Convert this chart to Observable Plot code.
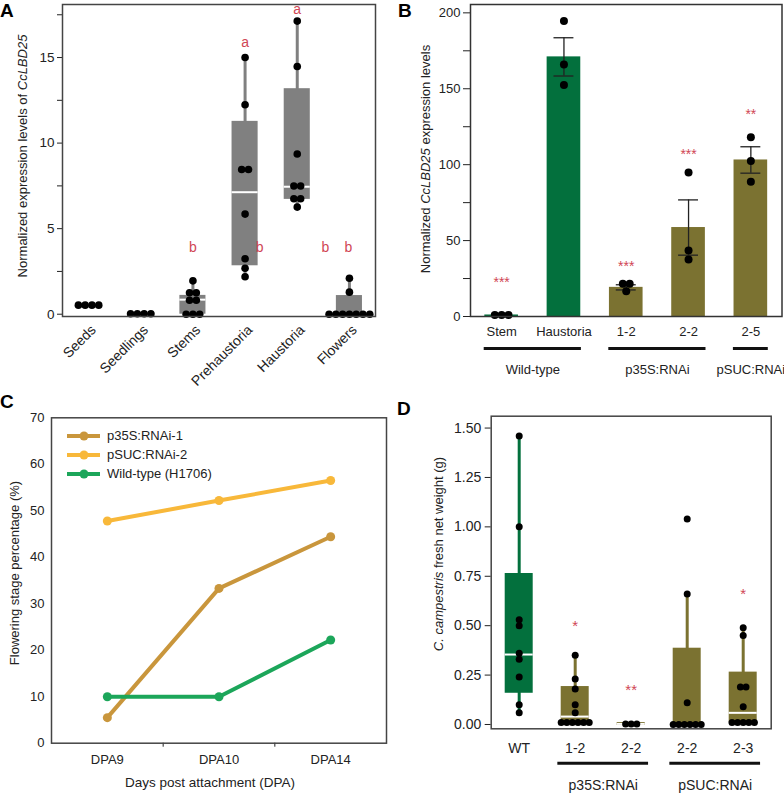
<!DOCTYPE html>
<html><head><meta charset="utf-8">
<script src="https://cdn.jsdelivr.net/npm/d3@7"></script>
<script src="https://cdn.jsdelivr.net/npm/@observablehq/plot@0.6"></script>
<style>
body{margin:0;background:#fff;}
#root{position:relative;width:784px;height:793px;background:#fff;font-family:'Liberation Sans',Arial,Helvetica,sans-serif;color:#222;overflow:hidden}
.pl{position:absolute;font-weight:bold;font-size:19px;line-height:19px;color:#000}
.yt{position:absolute;white-space:nowrap;transform:translate(-50%,-50%) rotate(-90deg);font-size:13px;color:#222}
.xt{position:absolute;white-space:nowrap;transform:translate(-50%,-50%);font-size:13.5px;color:#222}
.leg{position:absolute;font-size:13px;color:#222}
.leg div{height:19px;display:flex;align-items:center}
</style></head>
<body><div id="root"></div>
<script>
// ---------- DATA ----------
// Panel A
const catsA = ["Seeds","Seedlings","Stems","Prehaustoria","Haustoria","Flowers"];
const ptsA = [
  [0.53,0.53,0.53,0.53],
  [0.03,0.03,0.03,0.03],
  [1.95,1.25,1.25,0.82,0.82,0,0,0],
  [15.0,12.24,8.46,8.46,5.85,3.24,2.69,2.19],
  [17.13,14.48,9.36,7.49,7.49,6.75,6.75,6.26],
  [2.1,1.29,0,0,0,0,0,0,0]
];
const q1A  = [null,null,0,2.83,6.71,0];
const medA = [null,null,0.85,7.13,7.45,0];
const q3A  = [null,null,1.1,11.27,13.18,1.09];
const loA  = [null,null,0,2.19,6.26,0];
const hiA  = [null,null,1.95,15.0,17.13,2.1];
const letterTextA = ["a","a","b","b","b","b"];
const letterXA = [3,4,2,3.28,4.54,4.98];
const letterYA = [15.9,17.8,3.9,3.9,3.9,3.9];

// Panel B
const catsB = ["Stem","Haustoria","1-2","2-2","2-5"];
const meanB = [1,171,19.2,58.6,103.1];
const seB   = [0.3,12.6,1.7,18.2,8.7];
const ptsB  = [[1,1,1],[194.6,166,152.4],[21.6,21.6,16.7],[94.9,43.4,37.6],[118,102.4,88.7]];
const starsB = ["***","","***","***","**"];
const starYB = [22.7,null,33,106.8,133];
const groupNamesB = ["Wild-type","p35S:RNAi","pSUC:RNAi"];
const groupFromB = [0,2,4];
const groupToB = [1,3,4];
const typeB = ["wt","wt","tg","tg","tg"];

// Panel C
const dpaC = ["DPA9","DPA10","DPA14"];
const seriesC = ["p35S:RNAi-1","pSUC:RNAi-2","Wild-type (H1706)"];
const valuesC = [[5.5,33.3,44.4],[47.8,52.2,56.5],[10,10,22.2]];
const colorsC = ["#c9963c","#f8b83a","#1ca65a"];

// Panel D
const catsD = ["WT","1-2","2-2","2-2","2-3"];
const ptsD = [
  [1.46,1.0,0.53,0.50,0.36,0.33,0.24,0.10,0.06],
  [0.35,0.23,0.18,0.10,0.06,0.01,0.01,0.01,0.01,0.01,0.01],
  [0.003,0.003,0.003],
  [1.04,0.66,0.11,0,0,0,0,0,0],
  [0.49,0.45,0.19,0.19,0.09,0.01,0.01,0.01,0.01,0.01]
];
const q1D  = [0.158,0.01,-0.005,0,0.01];
const medD = [0.354,0.04,0.003,0,0.059];
const q3D  = [0.764,0.192,0.01,0.386,0.265];
const loD  = [0.06,0.01,0,0,0.01];
const hiD  = [1.46,0.35,0.01,0.66,0.49];
const starsD = ["","*","**","","*"];
const starYD = [null,0.496,0.172,null,0.658];
const groupNamesD = ["p35S:RNAi","pSUC:RNAi"];
const groupFromD = [1,3];
const groupToD = [2,4];
const typeD = ["wt","tg","tg","tg","tg"];

const GREEN = "#03703d", OLIVE = "#7b7231", RED = "#d04655", GRAY = "#808080";
const FONT = "'Liberation Sans', Arial, Helvetica, sans-serif";

// ---------- helpers ----------
function spread(pts, step) {
  const out = [];
  pts.forEach((vals, i) => {
    const g = d3.group(vals, v => v);
    for (const [v, arr] of g) {
      const n = arr.length;
      arr.forEach((_, k) => out.push({i, v, x: i + (k - (n - 1) / 2) * step}));
    }
  });
  return out;
}
const root = document.getElementById("root");
function place(svg, left, top) {
  svg.style.position = "absolute";
  svg.style.left = left + "px";
  svg.style.top = top + "px";
  root.appendChild(svg);
}
function addDiv(cls, html, left, top) {
  const d = document.createElement("div");
  d.className = cls; d.innerHTML = html;
  d.style.left = left + "px"; d.style.top = top + "px";
  root.appendChild(d); return d;
}
const baseStyle = {fontFamily: FONT, fontSize: "13px", color: "#222", background: "transparent", overflow: "visible"};

// ---------- Panel A ----------
const boxA = catsA.map((c, i) => ({i, q1: q1A[i], med: medA[i], q3: q3A[i], lo: loA[i], hi: hiA[i]})).filter(d => d.q1 != null);
const lettersA = letterTextA.map((t, k) => ({t, x: letterXA[k], y: letterYA[k]}));
const chartA = Plot.plot({
  width: 392, height: 400, marginLeft: 62, marginRight: 17, marginTop: 4, marginBottom: 84,
  style: {...baseStyle, fontSize: "13.5px"},
  x: {domain: [-0.5, 5.5]},
  y: {domain: [-0.134, 18.1]},
  marks: [
    Plot.ruleX(boxA, {x: "i", y1: "lo", y2: "hi", stroke: GRAY, strokeWidth: 3}),
    Plot.rect(boxA, {x1: d => d.i - 0.25, x2: d => d.i + 0.25, y1: "q1", y2: "q3", fill: GRAY}),
    Plot.ruleY(boxA, {x1: d => d.i - 0.25, x2: d => d.i + 0.25, y: "med", stroke: "white", strokeWidth: 2}),
    Plot.dot(spread(ptsA, 0.13), {x: "x", y: "v", r: 3.8, fill: "black"}),
    Plot.text(lettersA, {x: "x", y: "y", text: "t", fill: RED, fontSize: 14}),
    Plot.axisY({ticks: d3.range(0, 18, 2.5), tickFormat: d => d % 5 === 0 ? d : "", tickSize: 5, tickPadding: 3, label: null}),
    Plot.axisX({ticks: d3.range(6), tickFormat: i => catsA[i], tickRotate: -45, tickSize: 0, tickPadding: 11, dx: 5, label: null, fontSize: 14}),
    Plot.frame({stroke: "#444", strokeWidth: 1.5})
  ]
});
place(chartA, 0, 0);
addDiv("yt", "Normalized expression levels of <i>CcLBD25</i>", 22, 156);

// ---------- Panel B ----------
const barsB = catsB.map((c, i) => ({i, mean: meanB[i], se: seB[i], col: typeB[i] === "wt" ? GREEN : OLIVE}));
const starsBd = starsB.map((t, i) => ({i, t, y: starYB[i]})).filter(d => d.t);
const groupsB = groupNamesB.map((n, k) => ({n, from: groupFromB[k], to: groupToB[k]}));
const chartB = Plot.plot({
  width: 392, height: 390, marginLeft: 78, marginRight: 2.5, marginTop: 4, marginBottom: 74,
  style: baseStyle,
  color: {type: "identity"},
  x: {domain: [-0.5, 4.5]},
  y: {domain: [0, 205.5]},
  marks: [
    Plot.rect(barsB, {x1: d => d.i - 0.27, x2: d => d.i + 0.27, y1: () => 0, y2: "mean", fill: "col"}),
    Plot.ruleX(barsB, {x: "i", y1: d => d.mean - d.se, y2: d => d.mean + d.se, stroke: "#222", strokeWidth: 1.3}),
    Plot.ruleY(barsB, {x1: d => d.i - 0.16, x2: d => d.i + 0.16, y: d => d.mean + d.se, stroke: "#222", strokeWidth: 1.3}),
    Plot.ruleY(barsB, {x1: d => d.i - 0.16, x2: d => d.i + 0.16, y: d => d.mean - d.se, stroke: "#222", strokeWidth: 1.3}),
    Plot.dot(spread(ptsB, 0.11), {x: "x", y: "v", r: 4, fill: "black"}),
    Plot.text(starsBd, {x: "i", y: "y", text: "t", fill: RED, fontSize: 14}),
    Plot.ruleY(groupsB, {x1: d => d.from - 0.28, x2: d => d.to + 0.28, y: () => 0, dy: 32, stroke: "#111", strokeWidth: 3}),
    Plot.text(groupsB, {x: d => (d.from + d.to) / 2, y: () => 0, text: "n", dy: 53, fontSize: 13}),
    Plot.axisY({ticks: d3.range(0, 201, 25), tickFormat: d => d % 50 === 0 ? d : "", tickSize: 7, tickPadding: 3, label: null}),
    Plot.axisX({ticks: d3.range(5), tickFormat: i => catsB[i], tickSize: 0, tickPadding: 10, label: null}),
    Plot.frame({stroke: "#333", strokeWidth: 1.5})
  ]
});
place(chartB, 392, 0);
addDiv("yt", "Normalized <i>CcLBD25</i> expression levels", 425, 159);

// ---------- Panel C ----------
const lineC = [];
seriesC.forEach((s, k) => valuesC[k].forEach((v, j) => lineC.push({s, j, v, col: colorsC[k]})));
const chartC = Plot.plot({
  width: 392, height: 403, marginLeft: 51, marginRight: 6, marginTop: 27.3, marginBottom: 50.3,
  style: baseStyle,
  color: {type: "identity"},
  x: {domain: [-0.5, 2.5]},
  y: {domain: [0, 70]},
  marks: [
    Plot.line(lineC, {x: "j", y: "v", z: "s", stroke: "col", strokeWidth: 4}),
    Plot.dot(lineC, {x: "j", y: "v", fill: "col", r: 4.5}),
    Plot.axisY({ticks: d3.range(0, 71, 10), tickSize: 0, tickPadding: 7, label: null}),
    Plot.axisX({ticks: [0, 1, 2], tickFormat: i => dpaC[i], tickSize: 0, tickPadding: 12, label: null}),
    Plot.axisX({ticks: [0.5, 1.5], tickFormat: () => "", tickSize: 4, label: null}),
    Plot.frame({stroke: "#444", strokeWidth: 1.5})
  ]
});
place(chartC, 0, 390);
addDiv("yt", "Flowering stage percentage (%)", 14, 573);
addDiv("xt", "Days post attachment (DPA)", 210, 782);
addDiv("leg", seriesC.map((s, k) =>
  `<div><svg width="40" height="10"><line x1="0" x2="33" y1="5" y2="5" stroke="${colorsC[k]}" stroke-width="4"/><circle cx="17" cy="5" r="4.5" fill="${colorsC[k]}"/></svg>${s}</div>`).join(""), 67, 426);

// ---------- Panel D ----------
const boxD = catsD.map((c, i) => ({i, q1: q1D[i], med: medD[i], q3: q3D[i], lo: loD[i], hi: hiD[i], col: typeD[i] === "wt" ? GREEN : OLIVE}));
const starsDd = starsD.map((t, i) => ({i, t, y: starYD[i]})).filter(d => d.t);
const groupsD = groupNamesD.map((n, k) => ({n, from: groupFromD[k], to: groupToD[k]}));
const chartD = Plot.plot({
  width: 392, height: 403, marginLeft: 98.7, marginRight: 13.3, marginTop: 25.7, marginBottom: 64.7,
  style: {...baseStyle, fontSize: "14px"},
  color: {type: "identity"},
  x: {domain: [-0.5, 4.5]},
  y: {domain: [-0.0218, 1.56]},
  marks: [
    Plot.ruleX(boxD, {x: "i", y1: "lo", y2: "hi", stroke: "col", strokeWidth: 3}),
    Plot.rect(boxD, {x1: d => d.i - 0.25, x2: d => d.i + 0.25, y1: "q1", y2: "q3", fill: "col"}),
    Plot.ruleY(boxD, {x1: d => d.i - 0.25, x2: d => d.i + 0.25, y: "med", stroke: "white", strokeWidth: 2}),
    Plot.dot(spread(ptsD, 0.1), {x: "x", y: "v", r: 3.5, fill: "black"}),
    Plot.text(starsDd, {x: "i", y: "y", text: "t", fill: RED, fontSize: 15}),
    Plot.ruleY(groupsD, {x1: d => d.from - 0.31, x2: d => d.to + 0.31, y: () => 0, dy: 38.7, stroke: "#111", strokeWidth: 3}),
    Plot.text(groupsD, {x: d => (d.from + d.to) / 2, y: () => 0, text: "n", dy: 61, fontSize: 14}),
    Plot.axisY({ticks: d3.range(0, 1.51, 0.25), tickFormat: d3.format(".2f"), tickSize: 6, tickPadding: 4, label: null}),
    Plot.axisX({ticks: d3.range(5), tickFormat: i => catsD[i], tickSize: 0, tickPadding: 14, label: null}),
    Plot.frame({stroke: "#444", strokeWidth: 1.5})
  ]
});
place(chartD, 392, 390);
addDiv("yt", "<i>C. campestris</i> fresh net weight (g)", 438, 554);

// ---------- panel letters ----------
addDiv("pl", "A", 0, 1);
addDiv("pl", "B", 398, 1);
addDiv("pl", "C", 0, 392);
addDiv("pl", "D", 397, 399);
</script>
</body></html>
